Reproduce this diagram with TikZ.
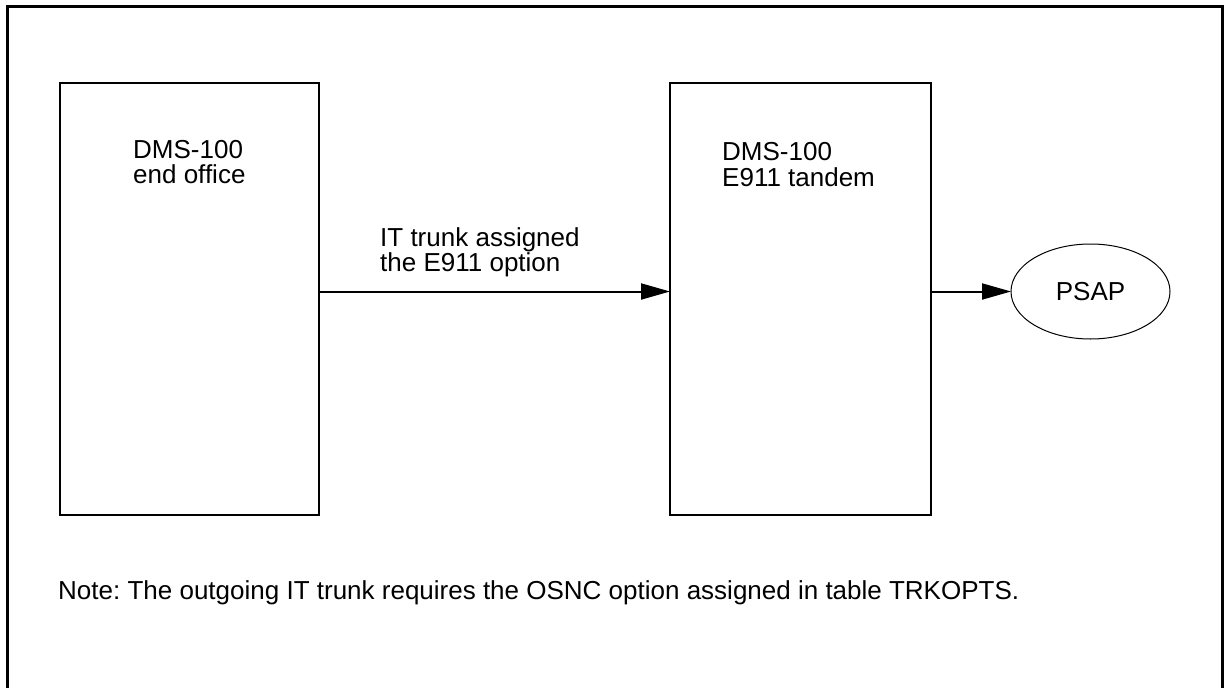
\documentclass[tikz,border=0pt]{standalone}
\usepackage{fontspec}
\setmainfont{Liberation Sans}
\usetikzlibrary{arrows.meta,shapes.geometric}
\frenchspacing
\begin{document}
\begin{tikzpicture}[x=1pt,y=-1pt,
  every node/.style={font=\fontsize{26}{25.5}\selectfont},
  office/.style={draw,line width=2.8pt,minimum width=#1,minimum height=432pt,inner sep=0pt,outer sep=0pt},
  lbl/.style={anchor=north west,inner sep=0pt,align=left},
  arr/.style={line width=2pt,-{Triangle[length=29pt,width=16pt]}},
  term/.style={draw,ellipse,line width=1pt,minimum width=159pt,minimum height=95pt,inner sep=0pt,outer sep=0pt}]
\useasboundingbox (0,0) rectangle (1224,688);
\begin{scope}
\clip (0,0) rectangle (1224,688);
\draw[line width=3pt] (7.5,6.5) rectangle (1222.5,720);
\end{scope}
\node[office=259pt] (L) at (189.5,299) {};
\node[office=261pt] (M) at (800.5,299) {};
\node[term] (P) at (1090.5,291.5) {PSAP};
\node[lbl] (Lt) at (133,140) {DMS-100\\end office};
\node[lbl] (Mt) at (722,142.5) {DMS-100\\E911 tandem};
\node[lbl] (At) at (380,227) {IT trunk assigned\\the E911 option};
\node[lbl] (N) at (58,580) {Note: The outgoing IT trunk requires the OSNC option assigned in table TRKOPTS.};
\draw[arr] (L.east |- P.center) -- (M.west |- P.center);
\draw[arr] (M.east |- P.center) -- (P.west);
\end{tikzpicture}
\end{document}
